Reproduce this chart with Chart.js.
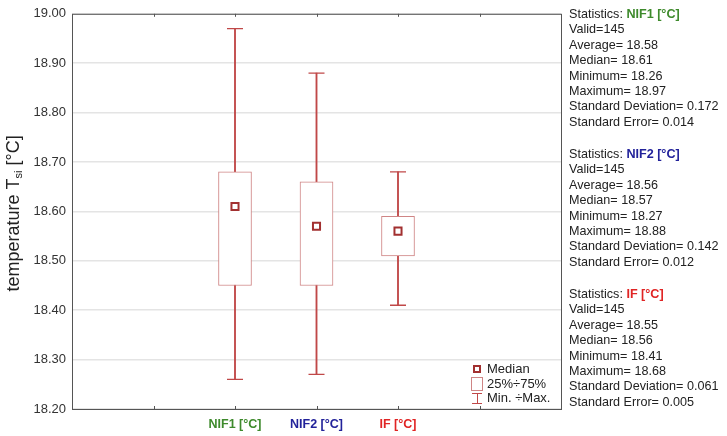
<!DOCTYPE html>
<html>
<head>
<meta charset="utf-8">
<script src="https://cdn.jsdelivr.net/npm/chart.js@4.4.0/dist/chart.umd.min.js"></script>
<style>
  html, body { margin: 0; padding: 0; background: #fff; }
  #wrap { position: relative; width: 727px; height: 436px; }
  #stats { position: absolute; left: 569px; top: 7px; font-family: "Liberation Sans", Arial, sans-serif; font-size: 12.6px; line-height: 15.4px; color: #222; }
  .block { height: 140px; }
  .hdr b { font-weight: bold; }
</style>
</head>
<body>
<div id="wrap">
  <canvas id="c" width="727" height="436"></canvas>
  <div id="stats"></div>
</div>
<script>
// categories sit on a 0..6 axis, boxes at 2, 3, 4
const groups = ['NIF1 [°C]', 'NIF2 [°C]', 'IF [°C]'];
const groupPos = [2, 3, 4];
const groupColors = ['#3e8a2c', '#22229a', '#e02424'];
const minVals = [18.26, 18.27, 18.41];
const q1Vals = [18.45, 18.45, 18.51];
const medianVals = [18.61, 18.57, 18.56];
const q3Vals = [18.68, 18.66, 18.59];
const maxVals = [18.97, 18.88, 18.68];
const xTicks = [1, 2, 3, 4, 5];
const yTicks = [18.2, 18.3, 18.4, 18.5, 18.6, 18.7, 18.8, 18.9, 19.0];

// statistics table on the right
const validN = [145, 145, 145];
const averages = ['18.58', '18.56', '18.55'];
const medians = ['18.61', '18.57', '18.56'];
const minimums = ['18.26', '18.27', '18.41'];
const maximums = ['18.97', '18.88', '18.68'];
const stdDevs = ['0.172', '0.142', '0.061'];
const stdErrs = ['0.014', '0.012', '0.005'];

const legendLabels = ['Median', '25%÷75%', 'Min. ÷Max.'];

const boxColor = '#cf8585';
const whiskerColor = '#c04848';
const medianColor = '#a23030';

// stats panel
const statsEl = document.getElementById('stats');
groups.forEach((g, i) => {
    const d = document.createElement('div');
    d.className = 'block';
    d.innerHTML =
        `<div class="hdr">Statistics: <b style="color:${groupColors[i]}">${g}</b></div>` +
        `<div>Valid=${validN[i]}</div>` +
        `<div>Average= ${averages[i]}</div>` +
        `<div>Median= ${medians[i]}</div>` +
        `<div>Minimum= ${minimums[i]}</div>` +
        `<div>Maximum= ${maximums[i]}</div>` +
        `<div>Standard Deviation= ${stdDevs[i]}</div>` +
        `<div>Standard Error= ${stdErrs[i]}</div>`;
    statsEl.appendChild(d);
});

const frame = {
    id: 'frame',
    afterDraw(chart) {
        const { ctx, chartArea: a, scales } = chart;
        ctx.save();
        ctx.strokeStyle = '#555';
        ctx.lineWidth = 1;
        ctx.strokeRect(a.left + 0.5, a.top + 0.5, a.right - a.left, a.bottom - a.top);
        // small inner tick marks top and bottom
        xTicks.forEach(v => {
            const x = Math.round(scales.x.getPixelForValue(v)) + 0.5;
            ctx.beginPath();
            ctx.moveTo(x, a.bottom); ctx.lineTo(x, a.bottom - 3);
            ctx.moveTo(x, a.top); ctx.lineTo(x, a.top + 3);
            ctx.stroke();
        });
        // y title with subscript
        ctx.translate(14, (a.top + a.bottom) / 2 + 2);
        ctx.rotate(-Math.PI / 2);
        ctx.fillStyle = '#222';
        ctx.textBaseline = 'middle';
        const big = '18px "Liberation Sans", Arial, sans-serif';
        const small = '11px "Liberation Sans", Arial, sans-serif';
        const p1 = 'temperature T', p2 = 'si', p3 = ' [°C]';
        ctx.font = big; const w1 = ctx.measureText(p1).width, w3 = ctx.measureText(p3).width;
        ctx.font = small; const w2 = ctx.measureText(p2).width;
        let x0 = -(w1 + w2 + w3) / 2;
        ctx.font = big; ctx.fillText(p1, x0, 0);
        ctx.font = small; ctx.fillText(p2, x0 + w1, 5);
        ctx.font = big; ctx.fillText(p3, x0 + w1 + w2, 0);
        ctx.restore();

        // legend bottom-right inside plot
        ctx.save();
        const lx = a.right - 84, ly = a.bottom - 40;
        ctx.font = '13px "Liberation Sans", Arial, sans-serif';
        ctx.fillStyle = '#222';
        ctx.textBaseline = 'middle';
        // median icon
        ctx.strokeStyle = medianColor; ctx.lineWidth = 2;
        ctx.strokeRect(lx - 3, ly - 3, 6, 6);
        ctx.fillText(legendLabels[0], lx + 10, ly);
        // box icon
        ctx.strokeStyle = boxColor; ctx.lineWidth = 1;
        ctx.strokeRect(lx - 5.5, ly + 8.5, 11, 13);
        ctx.fillText(legendLabels[1], lx + 10, ly + 15);
        // whisker icon
        ctx.strokeStyle = whiskerColor; ctx.lineWidth = 1;
        ctx.beginPath();
        ctx.moveTo(lx - 5, ly + 24.5); ctx.lineTo(lx + 5, ly + 24.5);
        ctx.moveTo(lx + 0.5, ly + 24.5); ctx.lineTo(lx + 0.5, ly + 34.5);
        ctx.moveTo(lx - 5, ly + 34.5); ctx.lineTo(lx + 5, ly + 34.5);
        ctx.stroke();
        ctx.fillText(legendLabels[2], lx + 10, ly + 29);
        ctx.restore();
    }
};

new Chart(document.getElementById('c'), {
    type: 'bar',
    data: {
        datasets: [
            {
                label: 'box',
                data: groupPos.map((x, i) => ({ x, y: [q1Vals[i], q3Vals[i]] })),
                backgroundColor: '#fff',
                borderColor: boxColor,
                borderWidth: 1,
                borderSkipped: false,
                barThickness: 33,
                grouped: false,
                order: 2
            },
            {
                label: 'whisker',
                data: groupPos.map((x, i) => ({ x, y: [minVals[i], maxVals[i]] })),
                backgroundColor: whiskerColor,
                borderWidth: 0,
                barThickness: 1.2,
                grouped: false,
                order: 5
            },
            {
                type: 'scatter',
                label: 'caps',
                data: groupPos.flatMap((x, i) => [{ x, y: minVals[i] }, { x, y: maxVals[i] }]),
                pointStyle: 'line',
                radius: 8,
                borderColor: whiskerColor,
                borderWidth: 1.3,
                order: 1
            },
            {
                type: 'scatter',
                label: 'median',
                data: groupPos.map((x, i) => ({ x, y: medianVals[i] })),
                pointStyle: 'rect',
                radius: 5,
                backgroundColor: '#fff',
                borderColor: medianColor,
                borderWidth: 2,
                order: 0
            }
        ]
    },
    options: {
        responsive: false,
        animation: false,
        layout: { padding: { top: 12, right: 166, left: 0, bottom: 0 } },
        plugins: { legend: { display: false }, tooltip: { enabled: false } },
        scales: {
            x: {
                type: 'linear',
                min: 0, max: 6,
                offset: false,
                afterBuildTicks: s => { s.ticks = xTicks.map(v => ({ value: v })); },
                afterFit: s => { s.height = 27; },
                grid: { display: false, drawTicks: false },
                border: { display: false },
                ticks: {
                    padding: 8,
                    font: { family: '"Liberation Sans", Arial, sans-serif', size: 12.5, weight: 'bold' },
                    color: ctx => {
                        const i = groupPos.indexOf(ctx.tick.value);
                        return i >= 0 ? groupColors[i] : '#000';
                    },
                    callback: v => {
                        const i = groupPos.indexOf(v);
                        return i >= 0 ? groups[i] : '';
                    }
                }
            },
            y: {
                min: 18.2, max: 19.0,
                afterBuildTicks: s => { s.ticks = yTicks.map(v => ({ value: v })); },
                afterFit: s => { s.width = 72; },
                grid: { color: '#e4e4e4', lineWidth: 1.5, drawTicks: false },
                border: { display: false },
                ticks: {
                    padding: 6,
                    color: '#333',
                    font: { family: '"Liberation Sans", Arial, sans-serif', size: 13 },
                    callback: v => v.toFixed(2)
                }
            }
        }
    },
    plugins: [frame]
});
</script>
</body>
</html>
